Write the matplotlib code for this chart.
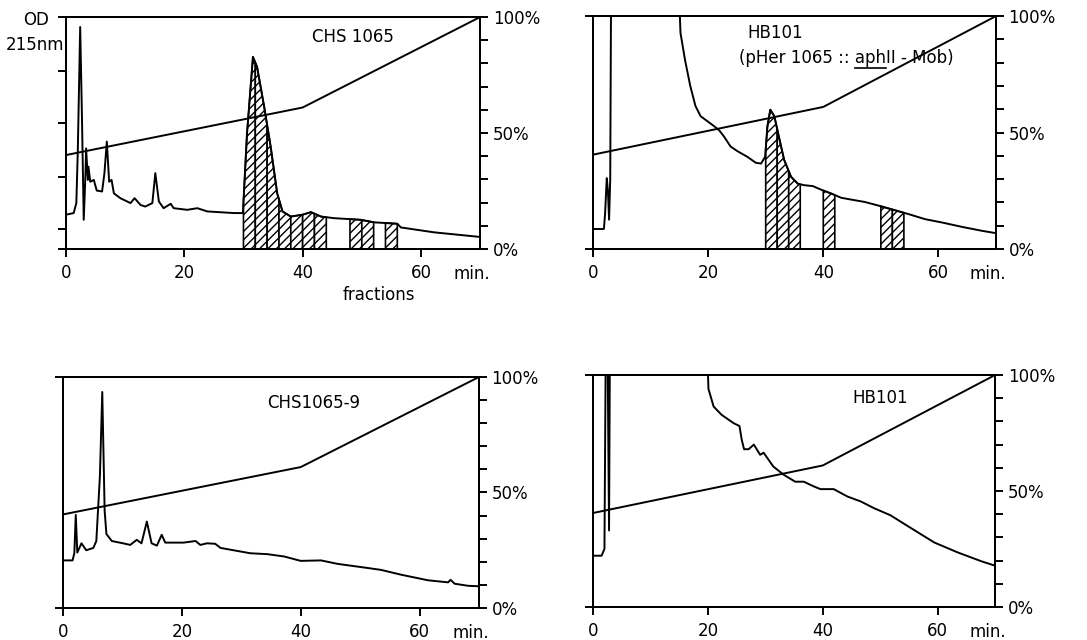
import matplotlib
matplotlib.use('Agg')
import matplotlib.pyplot as plt
import numpy as np

plt.rcParams['font.family'] = 'DejaVu Sans'
plt.rcParams['hatch.linewidth'] = 1.0

# time axis (min) and detector trace (% of full scale) for each run
tl_t = [0, 1.3, 1.75, 2.0, 2.4, 2.7, 3.0, 3.3, 3.4, 3.7, 3.8, 4.1, 4.7, 5.2, 6.1, 6.5,
        6.9, 7.3, 7.7, 8.1, 9.2, 10.9, 11.6, 12.6, 13.4, 14.6, 15.1, 15.7, 16.5, 17.7,
        18.2, 20.5, 22.2, 23.9, 28.4, 29.9, 30.6, 31.6, 32.3, 33.5, 34.6, 35.7, 36.6,
        38.0, 40.0, 41.4, 43.1, 45.3, 49.8, 52.1, 56.0, 56.6, 62.2, 70.0]
tl_od = [14.8, 15.5, 19.8, 42.7, 95.7, 57, 12.6, 32.7, 43.4, 29.8, 35.5, 29, 29.8, 25.2,
         24.8, 32.7, 46.3, 29, 29.8, 24, 21.9, 19.8, 21.9, 19, 18.3, 19.8, 32.7, 20.5,
         17.6, 19.5, 17.6, 16.9, 17.6, 16.2, 15.5, 15.5, 49.9, 82.8, 78.5, 61.3, 44.1,
         24, 16.2, 14, 14.8, 15.9, 14, 13.3, 12.6, 11.5, 10.9, 9.3, 7.2, 5.2]

tr_t = [0, 1.9, 2.1, 2.4, 2.6, 2.8, 3.0, 3.2, 14.5, 15.2, 16.0, 16.9, 17.8, 18.7, 19.8,
        21.0, 21.9, 22.7, 23.9, 25.1, 26.8, 28.3, 29.2, 29.9, 30.3, 30.8, 31.5, 32.4,
        33.2, 34.4, 35.6, 36.7, 38.2, 39.6, 41.4, 43.1, 44.9, 47.2, 50.1, 52.5, 54.8,
        57.7, 60.6, 64.1, 67.6, 70.0]
tr_od = [8.6, 8.6, 15, 30.4, 25, 12.6, 30, 140, 140, 92.8, 81, 70, 61.4, 57, 55, 52.8,
         51, 48.5, 44, 42, 39.6, 37, 36.7, 39.6, 52.7, 59.8, 57, 47, 38.3, 31, 28, 27.4,
         27, 25.5, 23.8, 22, 21.2, 20.2, 18.3, 16.6, 15, 12.8, 11.4, 9.5, 7.8, 6.8]

bl_t = [0, 1.6, 1.9, 2.14, 2.4, 3.1, 3.9, 5.1, 5.6, 6.2, 6.6, 7.0, 7.3, 8.2, 10.1, 11.3,
        12.4, 13.2, 14.1, 14.9, 15.8, 16.6, 17.2, 20.3, 22.3, 23.1, 24.2, 25.6, 26.5,
        31.5, 34.4, 37.2, 40.0, 43.4, 46.2, 51.3, 53.5, 56.9, 61.4, 64.8, 65.2, 65.9,
        68.2, 70.0]
bl_od = [20.6, 20.6, 23.7, 40.3, 24, 28, 25, 26, 29, 57, 93.5, 42, 32, 29, 28, 27.3,
         29.5, 28, 37.4, 28, 27, 31.7, 28.3, 28.3, 29, 27.3, 28, 27.8, 26, 23.7, 23.3,
         22.3, 20.4, 20.6, 19.1, 17.3, 16.5, 14.4, 12, 11.1, 12.2, 10.5, 9.6, 9.4]

br_t = [0, 1.5, 2.0, 2.3, 2.45, 2.8, 3.0, 19.5, 20.1, 21.0, 22.4, 24.5, 25.5, 25.9,
        26.3, 27.1, 28.0, 29.1, 29.7, 31.4, 33.2, 35.2, 36.7, 38.4, 39.6, 41.9, 44.3,
        46.6, 48.9, 51.8, 54.7, 59.4, 63.5, 67.6, 70.0]
br_od = [22.1, 22.1, 25, 140, 140, 33, 140, 140, 94, 86.4, 82.8, 79.2, 78, 72, 68, 68,
         70, 65.6, 66.5, 60.5, 57, 54, 54, 52, 50.8, 50.8, 47.6, 45.5, 42.6, 39.5, 35,
         27.8, 23.5, 19.7, 17.8]

# acetonitrile gradient (% B)
grad_t = [0, 40, 70]
grad_b = [40.5, 61, 100]

# collected fractions (boundaries, min)
tl_fractions = [[30, 32, 34, 36, 38, 40, 42, 44], [48, 50, 52], [54, 56]]
tr_fractions = [[30, 32, 34, 36], [40, 42], [50, 52, 54]]

x_ticks = [0, 20, 40, 60]
od_ticks = [0, 8.6, 31.2, 54.4, 76.6, 100]
pct_ticks = [0, 50, 100]
pct_labels = ['0%', '50%', '100%']

FS = 12
LW = 1.4


def panel(rect, t, od, left_ticks, fractions=()):
    ax = fig.add_axes(rect)
    for edges in fractions:
        for a, b in zip(edges[:-1], edges[1:]):
            xs = np.concatenate([[a], [x for x in t if a < x < b], [b]])
            ys = np.interp(xs, t, od)
            ax.fill_between(xs, 0, ys, facecolor='white', edgecolor='black',
                            hatch='////', lw=1.2, zorder=2)
    ax.plot(t, od, color='black', lw=LW, zorder=3)
    ax.plot(grad_t, grad_b, color='black', lw=LW, zorder=3)
    ax.set_xlim(0, 70)
    ax.set_ylim(0, 100)
    ax.set_xticks(x_ticks)
    ax.set_yticks(left_ticks)
    ax.set_yticklabels([])
    ax.tick_params(direction='out', length=6, width=LW, labelsize=FS, pad=5)
    for s in ax.spines.values():
        s.set_linewidth(LW)
    ax2 = ax.twinx()
    ax2.set_ylim(0, 100)
    ax2.set_yticks(pct_ticks)
    ax2.set_yticklabels(pct_labels)
    ax2.set_yticks(np.arange(10, 100, 10), minor=True)
    ax2.tick_params(which='both', direction='out', length=6, width=LW,
                    labelsize=FS, pad=3)
    for s in ax2.spines.values():
        s.set_linewidth(LW)
    ax.text(0.935, -0.108, 'min.', transform=ax.transAxes, fontsize=FS,
            ha='left', va='center')
    return ax


fig = plt.figure(figsize=(10.87, 6.40), dpi=100)

ax_tl = panel([0.0607, 0.6109, 0.381, 0.3625], tl_t, tl_od, od_ticks, tl_fractions)
ax_tr = panel([0.5455, 0.6109, 0.3708, 0.364], tr_t, tr_od, [0, 100], tr_fractions)
ax_bl = panel([0.058, 0.05, 0.3827, 0.361], bl_t, bl_od, [0, 100])
ax_br = panel([0.5455, 0.0516, 0.370, 0.3625], br_t, br_od, [0, 100])

ax_tl.text(0.594, 0.914, 'CHS 1065', transform=ax_tl.transAxes, fontsize=FS,
           ha='left', va='center')
ax_bl.text(0.49, 0.887, 'CHS1065-9', transform=ax_bl.transAxes, fontsize=FS,
           ha='left', va='center')
ax_br.text(0.644, 0.90, 'HB101', transform=ax_br.transAxes, fontsize=FS,
           ha='left', va='center')
ax_tr.text(0.382, 0.927, 'HB101', transform=ax_tr.transAxes, fontsize=FS,
           ha='left', va='center')
strain = '(pHer 1065 :: aphII - Mob)'
ax_tr.text(0.362, 0.80, strain, transform=ax_tr.transAxes, fontsize=FS,
           ha='left', va='baseline')

fig.text(0.0336, 0.969, 'OD', fontsize=FS, ha='center', va='center')
fig.text(0.032, 0.93, '215nm', fontsize=FS, ha='center', va='center')
fig.text(0.349, 0.539, 'fractions', fontsize=FS, ha='center', va='center')

# underline "aph" in the strain label
fig.canvas.draw()
r = fig.canvas.get_renderer()
probe1 = ax_tr.text(0.362, 0.80, '(pHer 1065 :: aph', transform=ax_tr.transAxes,
                    fontsize=FS, ha='left', va='baseline', alpha=0)
probe2 = ax_tr.text(0.362, 0.80, 'aph', transform=ax_tr.transAxes,
                    fontsize=FS, ha='left', va='baseline', alpha=0)
b1 = probe1.get_window_extent(r)
b2 = probe2.get_window_extent(r)
x_end = b1.x1
x_start = b1.x1 - b2.width
y_line = b2.y0 - 1.5
inv = ax_tr.transAxes.inverted()
p0 = inv.transform((x_start, y_line))
p1 = inv.transform((x_end, y_line))
ax_tr.plot([p0[0], p1[0]], [p0[1], p1[1]], color='black', lw=1.2,
           transform=ax_tr.transAxes, clip_on=False)
probe1.remove()
probe2.remove()

fig.savefig('out.png', dpi=100)
